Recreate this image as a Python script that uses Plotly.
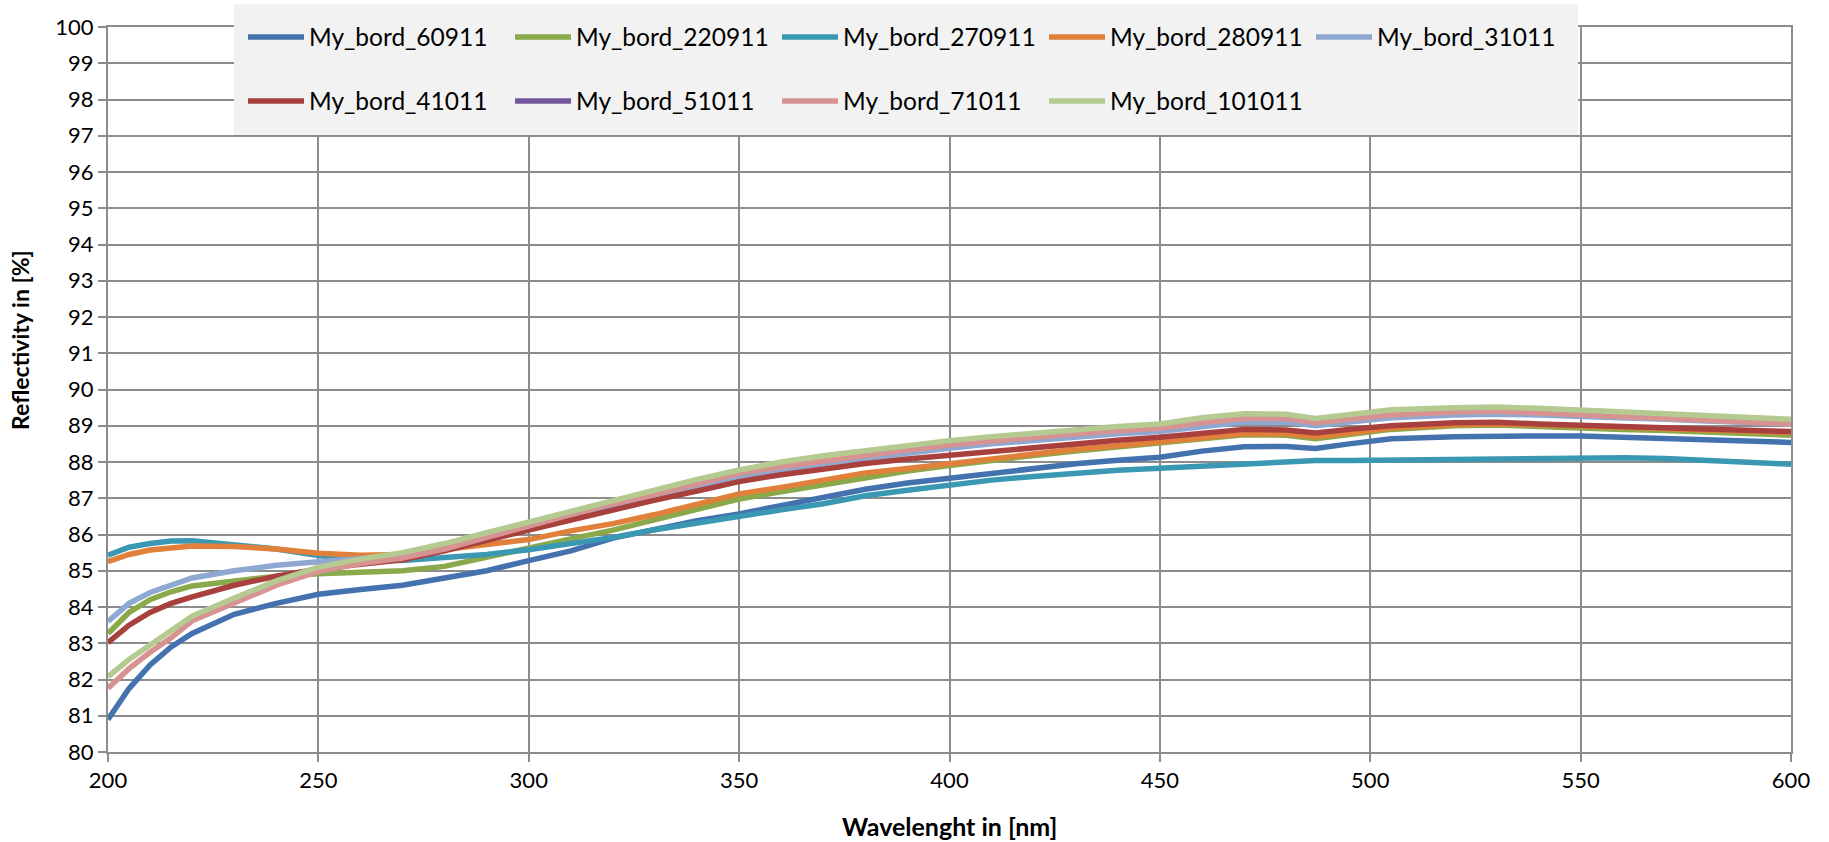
import plotly.graph_objects as go

wavelength = [200, 205, 210, 215, 220, 230, 240, 250, 260, 270, 280, 290, 300, 310, 320, 330, 340,
              350, 360, 370, 380, 390, 400, 410, 420, 430, 440, 450, 460, 470, 480, 487, 495, 505,
              520, 530, 540, 550, 560, 570, 580, 590, 600]

my_bord_60911 = [80.9, 81.75, 82.4, 82.9, 83.27, 83.8, 84.1, 84.35, 84.48, 84.6, 84.8, 85.0, 85.28,
                 85.55, 85.9, 86.15, 86.38, 86.57, 86.8, 87.0, 87.25, 87.42, 87.55, 87.7, 87.83,
                 87.95, 88.05, 88.13, 88.3, 88.42, 88.43, 88.37, 88.5, 88.64, 88.7, 88.72, 88.72,
                 88.72, 88.68, 88.65, 88.62, 88.58, 88.54]
my_bord_220911 = [83.27, 83.85, 84.2, 84.42, 84.58, 84.72, 84.85, 84.92, 84.95, 85.0, 85.12, 85.38,
                  85.64, 85.88, 86.12, 86.4, 86.7, 86.98, 87.18, 87.38, 87.57, 87.75, 87.9, 88.05,
                  88.18, 88.3, 88.42, 88.52, 88.65, 88.75, 88.74, 88.64, 88.76, 88.9, 89.0, 89.02,
                  88.98, 88.93, 88.9, 88.87, 88.82, 88.78, 88.74]
my_bord_270911 = [85.43, 85.65, 85.75, 85.82, 85.83, 85.73, 85.6, 85.42, 85.3, 85.28, 85.35, 85.45,
                  85.58, 85.75, 85.92, 86.13, 86.32, 86.5, 86.68, 86.85, 87.07, 87.22, 87.37, 87.5,
                  87.6, 87.7, 87.77, 87.83, 87.88, 87.93, 87.98, 88.04, 88.04, 88.05, 88.08, 88.1,
                  88.12, 88.13, 88.12, 88.1, 88.04, 87.98, 87.94]
my_bord_280911 = [85.25, 85.45, 85.57, 85.63, 85.68, 85.67, 85.6, 85.48, 85.43, 85.45, 85.58, 85.7,
                  85.86, 86.1, 86.3, 86.55, 86.85, 87.12, 87.3, 87.5, 87.7, 87.82, 87.96, 88.1,
                  88.22, 88.35, 88.45, 88.56, 88.7, 88.78, 88.78, 88.7, 88.8, 88.94, 89.03, 89.05,
                  89.03, 89.0, 88.97, 88.92, 88.9, 88.85, 88.81]
my_bord_31011 = [83.6, 84.1, 84.4, 84.62, 84.8, 85.0, 85.15, 85.25, 85.35, 85.42, 85.62, 85.92,
                 86.21, 86.5, 86.8, 87.05, 87.35, 87.6, 87.78, 87.95, 88.1, 88.25, 88.38, 88.5,
                 88.6, 88.7, 88.78, 88.84, 88.98, 89.1, 89.1, 89.0, 89.1, 89.22, 89.3, 89.32,
                 89.3, 89.27, 89.23, 89.18, 89.13, 89.08, 89.05]
my_bord_41011 = [83.02, 83.5, 83.85, 84.1, 84.28, 84.6, 84.85, 85.05, 85.18, 85.3, 85.55, 85.85,
                 86.12, 86.4, 86.68, 86.95, 87.2, 87.46, 87.65, 87.82, 87.96, 88.08, 88.19, 88.3,
                 88.4, 88.5, 88.6, 88.68, 88.8, 88.9, 88.88, 88.8, 88.9, 89.0, 89.08, 89.1,
                 89.05, 89.02, 88.98, 88.93, 88.9, 88.87, 88.84]
my_bord_51011 = []
my_bord_71011 = [81.76, 82.3, 82.75, 83.15, 83.62, 84.12, 84.6, 84.98, 85.2, 85.35, 85.6, 85.92,
                 86.25, 86.55, 86.85, 87.1, 87.4, 87.69, 87.87, 88.03, 88.18, 88.33, 88.47, 88.58,
                 88.68, 88.78, 88.86, 88.93, 89.08, 89.2, 89.2, 89.08, 89.18, 89.3, 89.38, 89.4,
                 89.35, 89.3, 89.25, 89.2, 89.15, 89.1, 89.05]
my_bord_101011 = [82.08, 82.55, 82.95, 83.35, 83.75, 84.25, 84.72, 85.1, 85.32, 85.5, 85.75, 86.05,
                  86.35, 86.65, 86.95, 87.22, 87.52, 87.78, 88.0, 88.17, 88.32, 88.45, 88.59, 88.7,
                  88.8, 88.9, 88.98, 89.05, 89.22, 89.33, 89.32, 89.2, 89.32, 89.44, 89.5, 89.52,
                  89.48, 89.43, 89.38, 89.33, 89.28, 89.22, 89.18]

series_names = ["My_bord_60911", "My_bord_220911", "My_bord_270911", "My_bord_280911",
                "My_bord_31011", "My_bord_41011", "My_bord_51011", "My_bord_71011",
                "My_bord_101011"]
series_values = [my_bord_60911, my_bord_220911, my_bord_270911, my_bord_280911, my_bord_31011,
                 my_bord_41011, my_bord_51011, my_bord_71011, my_bord_101011]
series_colors = ["#4372AE", "#89A94A", "#3B98B2", "#E0803A", "#8EA8D2", "#A8403E", "#72579C",
                 "#D69391", "#B5CA91"]
legend_row = ["legend", "legend", "legend", "legend", "legend",
              "legend2", "legend2", "legend2", "legend2"]

y_ticks = list(range(80, 101))
x_ticks = list(range(200, 601, 50))

FONT = "Lato"
fig = go.Figure()
for name, vals, col, leg in zip(series_names, series_values, series_colors, legend_row):
    if vals:
        xs = wavelength
        ys = vals
    else:
        xs = [None]
        ys = [None]
    fig.add_trace(go.Scatter(x=xs, y=ys, mode="lines", name=name, legend=leg,
                             line=dict(color=col, width=5.5)))

W, H = 1829, 842
L, R, T, B = 108, 38, 27, 90
pw, ph = W - L - R, H - T - B

def px_x(px):
    return (px - L) / pw

def px_y(py):
    return (H - B - py) / ph

common_legend = dict(orientation="h", bgcolor="rgba(0,0,0,0)", borderwidth=0,
                     font=dict(family=FONT, size=24.5, color="#000000"),
                     itemwidth=56, entrywidth=196, entrywidthmode="pixels",
                     xanchor="left", yanchor="middle", traceorder="normal")

fig.update_layout(
    width=W, height=H,
    margin=dict(l=L, r=R, t=T, b=B, autoexpand=False),
    paper_bgcolor="white", plot_bgcolor="white",
    font=dict(family=FONT, size=22, color="#000000"),
    showlegend=True,
    legend=dict(common_legend, x=px_x(243), y=px_y(37)),
    legend2=dict(common_legend, x=px_x(243), y=px_y(101)),
    shapes=[dict(type="rect", xref="paper", yref="paper", layer="above",
                 x0=px_x(234), x1=px_x(1578), y0=px_y(135), y1=px_y(4),
                 fillcolor="#F2F2F2", line=dict(width=0))],
    annotations=[
        dict(text="<b>Reflectivity in [%]</b>", xref="paper", yref="paper",
             x=px_x(20), y=px_y(340), textangle=-90, showarrow=False,
             xanchor="center", yanchor="middle",
             font=dict(family=FONT, size=23, color="#000000")),
        dict(text="<b>Wavelenght in [nm]</b>", xref="paper", yref="paper",
             x=0.5, y=px_y(826), showarrow=False,
             xanchor="center", yanchor="middle",
             font=dict(family=FONT, size=25, color="#000000")),
    ],
    xaxis=dict(range=[200, 600], tickvals=x_ticks, showgrid=True, gridcolor="#8C8C8C",
               gridwidth=2, showline=True, linecolor="#8C8C8C", linewidth=2, mirror=True,
               ticks="outside", ticklen=8, tickcolor="#8C8C8C", tickwidth=2,
               tickfont=dict(family=FONT, size=22), zeroline=False, automargin=False),
    yaxis=dict(range=[80, 100], tickvals=y_ticks, showgrid=True, gridcolor="#8C8C8C",
               gridwidth=2, showline=True, linecolor="#8C8C8C", linewidth=2, mirror=True,
               ticks="outside", ticklen=8, tickcolor="#8C8C8C", tickwidth=2,
               tickfont=dict(family=FONT, size=22), zeroline=False, automargin=False),
)

fig.write_html("out.html")
